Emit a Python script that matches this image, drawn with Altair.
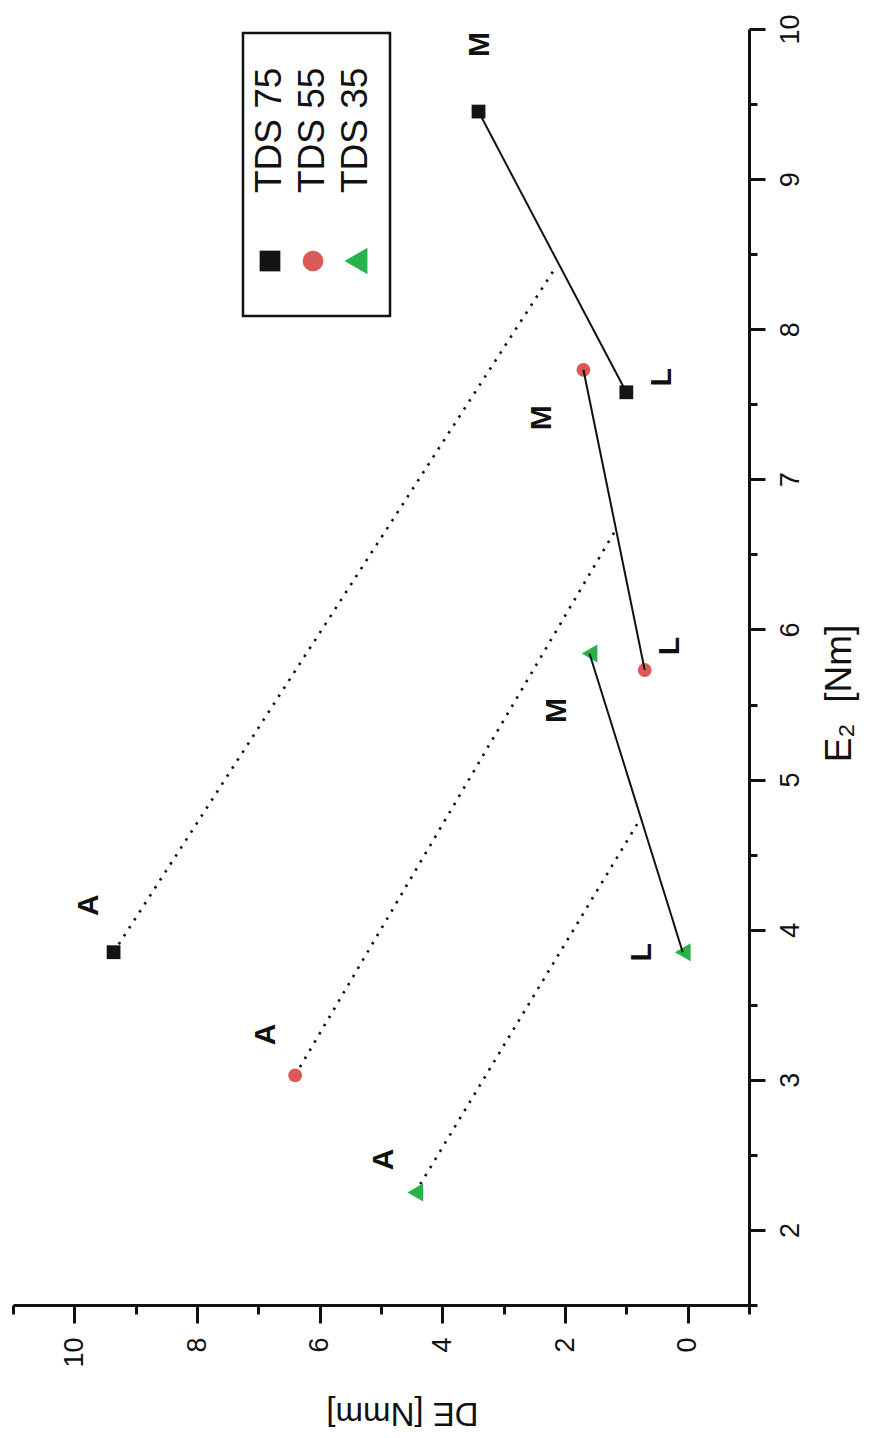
import altair as alt
import pandas as pd

FONT = "Liberation Sans"

# ---- data -------------------------------------------------------------
series = ["TDS 75", "TDS 55", "TDS 35"]
colors = ["#141414", "#dc5a56", "#27b24b"]
shapes = ["square", "circle", "triangle-left"]

# E2 [Nm] and DE [Nmm] for the states A, M and L of each series
e2_A = [3.85, 3.03, 2.25]
de_A = [9.36, 6.40, 4.44]
e2_M = [9.45, 7.73, 5.84]
de_M = [3.41, 1.70, 1.60]
e2_L = [7.58, 5.73, 3.85]
de_L = [1.00, 0.70, 0.08]
# end of each dotted line from A, on the M-L segment
e2_X = [8.42, 6.66, 4.74]
de_X = [2.14, 1.18, 0.77]

x_major = [0, 2, 4, 6, 8, 10]
x_minor = [-1, 1, 3, 5, 7, 9, 11]
y_major = [2, 3, 4, 5, 6, 7, 8, 9, 10]
y_minor = [1.5, 2.5, 3.5, 4.5, 5.5, 6.5, 7.5, 8.5, 9.5]

rows = []
for i, s in enumerate(series):
    rows.append({"series": s, "state": "A", "order": 0, "E2": e2_A[i], "DE": de_A[i]})
    rows.append({"series": s, "state": "M", "order": 1, "E2": e2_M[i], "DE": de_M[i]})
    rows.append({"series": s, "state": "L", "order": 2, "E2": e2_L[i], "DE": de_L[i]})
    rows.append({"series": s, "state": "X", "order": 3, "E2": e2_X[i], "DE": de_X[i]})
df = pd.DataFrame(rows)

# ---- scales and axes --------------------------------------------------
x_scale = alt.Scale(domain=[-1, 11], reverse=True, nice=False, zero=False)
y_scale = alt.Scale(domain=[1.5, 10], nice=False, zero=False)
color = alt.Color("series:N", scale=alt.Scale(domain=series, range=colors), legend=None)
shape = alt.Shape("series:N", scale=alt.Scale(domain=series, range=shapes), legend=None)

x_axis_major = alt.Axis(
    orient="bottom", values=x_major, tickSize=18, labelAngle=270, labelPadding=14,
    title="DE [Nmm]", titleAngle=180, titleFontSize=33, titleFont=FONT,
    titleFontWeight="normal", titleAlign="center", titleBaseline="middle",
    titleX=389, titleY=107, grid=False,
)
x_axis_minor = alt.Axis(orient="bottom", values=x_minor, tickSize=9, labels=False,
                        domain=False, title=None, grid=False)
y_axis_major = alt.Axis(
    orient="right", values=y_major, tickSize=16, labelAngle=270, labelAlign="center",
    labelBaseline="top", labelPadding=12,
    title="E₂\u00a0\u00a0[Nm]", titleAngle=270, titleFontSize=37, titleFont=FONT,
    titleFontWeight="normal", titleAlign="center", titleBaseline="middle",
    titleX=90, titleY=664, grid=False,
)
y_axis_minor = alt.Axis(orient="right", values=y_minor, tickSize=8, labels=False,
                        domain=False, title=None, grid=False)


def xy(xaxis=None, yaxis=None):
    return (
        alt.X("DE:Q", scale=x_scale, axis=xaxis),
        alt.Y("E2:Q", scale=y_scale, axis=yaxis),
    )


base = alt.Chart(df)

# dotted connectors from A
xd, yd = xy(x_axis_minor, y_axis_minor)
dotted = base.transform_filter(
    alt.FieldOneOfPredicate(field="state", oneOf=["A", "X"])
).mark_line(color="#111111", strokeWidth=2.6, strokeDash=[2.5, 7]).encode(
    x=xd, y=yd, detail="series:N", order="order:Q"
)

# solid segments M - L
xs, ys = xy()
solid = base.transform_filter(
    alt.FieldOneOfPredicate(field="state", oneOf=["M", "L"])
).mark_line(color="#111111", strokeWidth=2).encode(
    x=xs, y=ys, detail="series:N", order="order:Q"
)

# markers: squares and circles, then the larger triangles
xp, yp = xy(x_axis_major, y_axis_major)
points = base.transform_filter(
    alt.FieldOneOfPredicate(field="state", oneOf=["A", "M", "L"])
).transform_filter(
    alt.datum.series != series[2]
).mark_point(filled=True, opacity=1, size=190).encode(
    x=xp, y=yp, color=color, shape=shape,
)
xq, yq = xy()
triangles = base.transform_filter(
    alt.FieldOneOfPredicate(field="state", oneOf=["A", "M", "L"])
).transform_filter(
    alt.datum.series == series[2]
).mark_point(filled=True, opacity=1, size=330).encode(
    x=xq, y=yq, color=color, shape=shape,
)

# state letters, placed beside each marker (screen offsets in px)
placements = [
    ("TDS 75", "A", -25, -47), ("TDS 75", "M", 1, -67), ("TDS 75", "L", 36, -15),
    ("TDS 55", "A", -29, -41), ("TDS 55", "M", -41, 48), ("TDS 55", "L", 25, -24),
    ("TDS 35", "A", -31, -33), ("TDS 35", "M", -33, 57), ("TDS 35", "L", -41, 0),
]
letters = []
for s, st, sx, sy in placements:
    xt, yt = xy()
    letters.append(
        base.transform_filter(
            (alt.datum.series == s) & (alt.datum.state == st)
        ).mark_text(
            angle=270, dx=-sy, dy=sx, align="center", baseline="middle",
            font=FONT, fontSize=30, fontWeight="bold", color="#111111",
        ).encode(x=xt, y=yt, text="state:N")
    )

main = alt.layer(dotted, points, triangles, solid, *letters).resolve_axis(
    x="independent", y="independent"
)

# ---- legend box -------------------------------------------------------
leg_df = pd.DataFrame({"series": series})
box_df = pd.DataFrame({"k": [0]})
leg_x = alt.X("series:N", scale=alt.Scale(domain=series, range=[257, 343], padding=0), axis=None)

box = alt.Chart(box_df).mark_rect(fill="white", stroke="#111111", strokeWidth=2.5).encode(
    x=alt.value(230), x2=alt.value(377), y=alt.value(4), y2=alt.value(287)
)
leg_sym = alt.Chart(leg_df).transform_filter(
    alt.datum.series != series[2]
).mark_point(filled=True, opacity=1, size=430).encode(
    x=leg_x, y=alt.value(232), color=color, shape=shape,
)
leg_tri = alt.Chart(leg_df).transform_filter(
    alt.datum.series == series[2]
).mark_point(filled=True, opacity=1, size=700).encode(
    x=leg_x, y=alt.value(232), color=color, shape=shape,
)
leg_txt = alt.Chart(leg_df).mark_text(
    angle=270, align="left", baseline="middle", font=FONT, fontSize=37, color="#111111"
).encode(x=leg_x, y=alt.value(164), text="series:N")
legend = alt.layer(box, leg_sym, leg_tri, leg_txt)

chart = alt.layer(main, legend).resolve_scale(x="independent").properties(
    width=736, height=1276,
    autosize=alt.AutoSizeParams(type="none"),
    padding={"left": 13, "top": 29, "right": 121, "bottom": 133},
    background="white",
).configure_view(stroke=None).configure_axis(
    domainColor="#111111", domainWidth=3, tickColor="#111111", tickWidth=3,
    labelFont=FONT, labelFontSize=27, labelColor="#111111", titleColor="#111111",
)

chart.save("out.html", embed_options={"renderer": "svg", "actions": False})
